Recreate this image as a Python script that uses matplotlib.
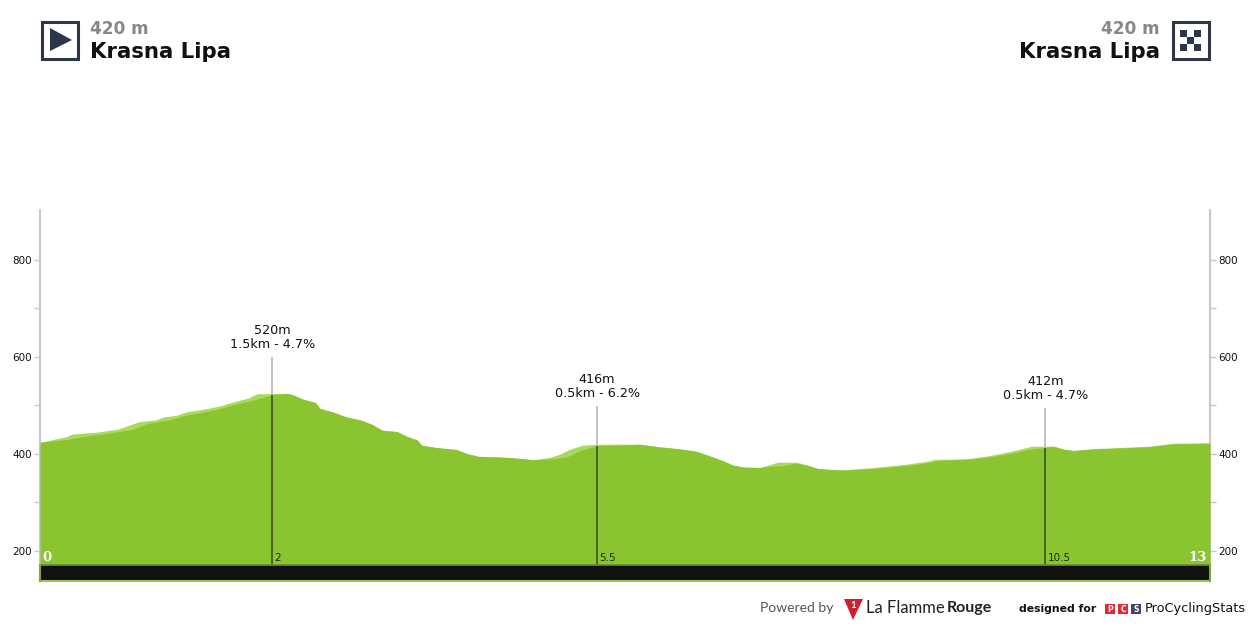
import matplotlib
matplotlib.use('Agg')
import matplotlib.pyplot as plt
from matplotlib.patches import Polygon, Rectangle

# outline of the profile, km / metres
top_km = [0, .30, .36, .63, .86, .97, 1.11, 1.28, 1.37, 1.52, 1.63, 1.78, 2.0, 2.14, 2.31, 2.41, 2.74, 2.81, 2.92,
          3.06, 3.11, 3.26, 3.41, 3.56, 3.69, 3.80, 3.97, 4.08, 4.19, 4.24, 4.41, 4.63, 4.74, 4.87, 5.08, 5.26, 5.48,
          5.67, 5.78, 5.89, 6.03, 6.19, 6.67, 6.86, 7.08, 7.28, 7.41, 7.56, 7.70, 7.81, 8.0, 8.09, 8.20, 8.41, 8.52,
          8.64, 8.86, 8.97, 9.26, 9.63, 9.86, 9.94, 10.11, 10.30, 10.53, 10.78, 11.02, 11.17, 11.26, 11.37, 11.48,
          11.70, 11.97, 12.33, 12.59, 13]
top_elev = [424, 436, 441, 445, 451, 458, 467, 470, 476, 480, 487, 491, 499, 507, 515, 524, 525, 522, 513,
            506, 494, 486, 476, 470, 461, 449, 446, 436, 429, 418, 413, 409, 401, 395, 394, 392, 388,
            393, 400, 410, 418, 420, 420, 415, 411, 406, 398, 388, 377, 373, 372, 377, 383, 383, 377,
            370, 367, 368, 372, 379, 385, 389, 389, 390, 396, 405, 416, 416, 416, 410, 407,
            411, 413, 416, 422, 423]

# same outline without the lighter strip on the climbs
main_km = [0, .30, .48, .81, 1.03, 1.22, 1.41, 1.63, 1.97, 2.14, 2.37, 2.58, 2.74, 2.81, 2.92,
           3.06, 3.11, 3.26, 3.41, 3.56, 3.69, 3.80, 3.97, 4.08, 4.19, 4.24, 4.41, 4.63, 4.74, 4.87, 5.08, 5.26, 5.48,
           5.70, 5.86, 6.0, 6.19, 6.67, 6.86, 7.08, 7.28, 7.41, 7.56, 7.70, 7.81, 8.0, 8.26, 8.39, 8.52,
           8.64, 8.86, 8.97, 9.26, 9.63, 9.86, 10.0, 10.11, 10.30, 10.53, 10.78, 11.0, 11.17, 11.26, 11.37, 11.48,
           11.70, 11.97, 12.33, 12.59, 13]
main_elev = [424, 430, 436, 444, 451, 464, 469, 480, 492, 501, 511, 522, 525, 522, 513,
             506, 494, 486, 476, 470, 461, 449, 446, 436, 429, 418, 413, 409, 401, 395, 394, 392, 388,
             390, 394, 407, 417, 420, 415, 411, 406, 398, 388, 377, 373, 372, 376, 381, 377,
             370, 367, 367, 370, 376, 382, 387, 388, 389, 393, 401, 410, 413, 416, 410, 407,
             410, 412, 415, 421, 422]

climb_km = [2.58, 6.19, 11.17]
climb_foot = [522, 417, 413]
climb_stem = [600, 499, 495]
climb_labels = ['520m\n1.5km - 4.7%', '416m\n0.5km - 6.2%', '412m\n0.5km - 4.7%']
climb_ticks = ['2', '5.5', '10.5']

major_ticks = [200, 400, 600, 800]
minor_ticks = [300, 500, 700]

start_name = 'Krasna Lipa'
finish_name = 'Krasna Lipa'
start_height = '420 m'
finish_height = '420 m'

W, H = 1250, 625
GREEN = '#8bc431'
LIGHT = '#a9da5e'
NAVY = '#2b3648'
GREY = '#c8c8c8'
Y_BOTTOM = 138
Y_BASE = 171
Y_TOP = 903

fig = plt.figure(figsize=[12.5, 6.25], dpi=100)
ax = fig.add_axes([40 / W, 1 - 581 / H, 1170 / W, 371 / H])
ax.set_xlim(0, 13)
ax.set_ylim(Y_BOTTOM, Y_TOP)

ax.fill_between(top_km, top_elev, Y_BASE, color=LIGHT, lw=0, zorder=2)
ax.fill_between(main_km, main_elev, Y_BASE, color=GREEN, lw=0, zorder=3)

# stems above and below the profile
for km, foot, stem, label, tick in zip(climb_km, climb_foot, climb_stem, climb_labels, climb_ticks):
    ax.plot([km, km], [foot, stem], color='#bdbdbd', lw=1.3, zorder=4, solid_capstyle='butt')
    ax.plot([km, km], [Y_BASE, foot], color='#465a22', lw=1.3, zorder=4, solid_capstyle='butt')
    ax.annotate(label, (km, stem), xytext=(0, 4), textcoords='offset points', ha='center', va='bottom',
                fontsize=9.2, linespacing=1.12, color='#111111', zorder=5)
    ax.annotate(tick, (km, Y_BASE), xytext=(1.5, 1.2), textcoords='offset points', ha='left', va='bottom',
                fontsize=7.5, color='#1c2a10', zorder=5)

# dark road strip at the bottom
ax.axhspan(Y_BOTTOM, Y_BASE, color='#111111', lw=0, zorder=4)
ax.plot([0, 13], [Y_BASE, Y_BASE], color='#66912a', lw=1.2, zorder=5)
ax.plot([0, 13], [Y_BOTTOM, Y_BOTTOM], color='#9cc45a', lw=1.5, zorder=5, clip_on=False)
ax.plot([0, 0], [Y_BOTTOM, Y_BASE], color='#7fa53c', lw=1.5, zorder=5, clip_on=False)
ax.plot([13, 13], [Y_BOTTOM, Y_BASE], color='#7fa53c', lw=1.5, zorder=5, clip_on=False)

ax.annotate('0', (0, Y_BASE), xytext=(1.5, 1), textcoords='offset points', ha='left', va='bottom', fontsize=9.5,
            family='DejaVu Serif', weight='bold', color='white', zorder=6)
ax.annotate('13', (13, Y_BASE), xytext=(-2, 1), textcoords='offset points', ha='right', va='bottom', fontsize=9.5,
            family='DejaVu Serif', weight='bold', color='white', zorder=6)

ax.set_xticks([])
ax.set_yticks(major_ticks)
ax.set_yticks(minor_ticks, minor=True)
ax.tick_params(axis='y', which='both', left=True, right=True, labelleft=True, labelright=True, direction='out',
               length=4, width=1, color=GREY, labelsize=7.5, labelcolor='#111111', pad=2)
ax.patch.set_alpha(0)
for side in ['top', 'bottom']:
    ax.spines[side].set_visible(False)
for side in ['left', 'right']:
    ax.spines[side].set_color(GREY)
    ax.spines[side].set_linewidth(1.5)
    ax.spines[side].set_bounds(Y_BASE, Y_TOP)

# header and footer drawn in pixel coordinates
over = fig.add_axes([0, 0, 1, 1])
over.set_xlim(0, W)
over.set_ylim(H, 0)
over.axis('off')
over.patch.set_alpha(0)

over.add_patch(Rectangle((41.5, 21.5), 36.5, 37, fill=False, ec=NAVY, lw=2.2))
over.add_patch(Polygon([(50, 28), (72, 40), (50, 51)], fc=NAVY, ec='none'))
over.add_patch(Rectangle((1172.5, 21.5), 36.5, 37, fill=False, ec=NAVY, lw=2.2))
for row, col in [(0, 0), (0, 2), (1, 1), (2, 0), (2, 2)]:
    over.add_patch(Rectangle((1180 + col * 7, 30 + row * 7), 7, 7, fc=NAVY, ec='none'))

HEAD = ['DejaVu Sans']
over.text(90, 29, start_height, fontsize=12.2, weight='bold', color='#888888', va='center', family=HEAD)
over.text(90, 52, start_name, fontsize=15.3, weight='bold', color='#111111', va='center', family=HEAD)
over.text(1160, 29, finish_height, fontsize=12.2, weight='bold', color='#888888', va='center', ha='right', family=HEAD)
over.text(1160, 52, finish_name, fontsize=15.3, weight='bold', color='#111111', va='center', ha='right', family=HEAD)

over.text(760, 608, 'Powered by', fontsize=10, color='#555555', va='center', family='Lato')
over.add_patch(Polygon([(844, 599), (863, 599), (853, 620)], fc='#d0202f', ec='none'))
over.text(853.5, 606, '1', fontsize=7, weight='bold', color='white', ha='center', va='center', family='Lato')
over.text(866, 608, 'La Flamme', fontsize=12, color='#222222', va='center', family='Lato')
over.text(947, 608, 'Rouge', fontsize=11.5, weight='bold', color='#222222', va='center', family='Lato')
over.text(1019, 609, 'designed for', fontsize=7.8, weight='bold', color='#111111', va='center', family='DejaVu Sans')
for x0, letter, col in [(1105, 'P', '#e02b35'), (1118, 'C', '#e02b35'), (1131, 'S', '#3b4a5e')]:
    over.add_patch(Rectangle((x0, 604), 10, 10, fc=col, ec='none'))
    over.text(x0 + 5, 609, letter, fontsize=5.5, weight='bold', color='white', ha='center', va='center')
over.text(1145, 608.5, 'ProCyclingStats', fontsize=9.3, color='#111111', va='center', family='DejaVu Sans')

fig.savefig('out.png', dpi=100)
